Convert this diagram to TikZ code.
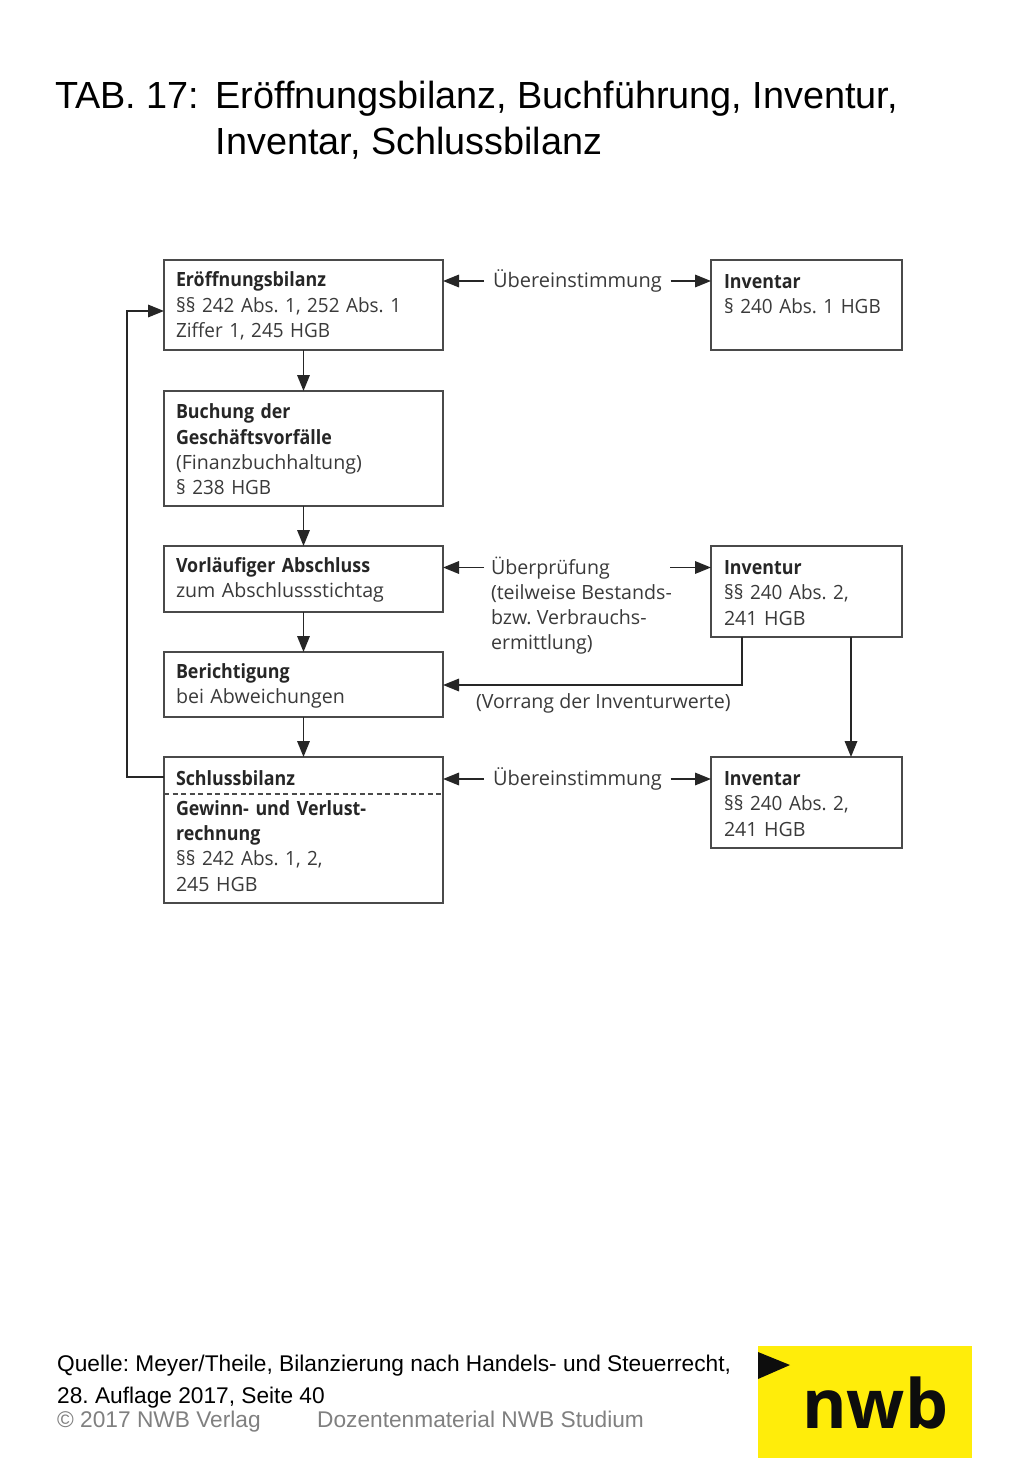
\documentclass[tikz,border=0pt]{standalone}
\usepackage{fontspec}
\setmainfont{Liberation Sans}
\newfontfamily\diag{Open Sans}
\newfontfamily\diagb[FakeStretch=0.91]{Open Sans}
\newfontfamily\diagn[FakeStretch=0.965]{Open Sans}
\usetikzlibrary{arrows.meta}
\definecolor{boxline}{HTML}{4A4A4A}
\definecolor{inktext}{HTML}{3A3A3A}
\definecolor{nwbyellow}{HTML}{FFED0A}
\definecolor{foot}{HTML}{808080}
\newcommand{\hd}[1]{{\diagb\bfseries\color{black!85}#1}}
\newcommand{\nm}[1]{{\diagn #1}}
\tikzset{
  box/.style={draw=boxline,line width=1.8pt,outer sep=0pt,anchor=north west,inner xsep=12pt,inner ysep=0pt,
    font=\diag\fontsize{19.6}{25.3}\selectfont\frenchspacing,text=inktext,align=left,
    execute at begin node=\rule{0pt}{17pt}},
  lab/.style={anchor=west,inner xsep=9pt,inner ysep=0pt,outer sep=0pt,font=\diag\fontsize{19.6}{25.3}\selectfont\frenchspacing,text=inktext,align=left},
  conn/.style={draw=black!85,line width=1.7pt,-{Triangle[length=16pt,width=12.5pt]}},
  plain/.style={anchor=base west,inner sep=0pt,font=\fontsize{37.8}{46}\selectfont\frenchspacing},
  src/.style={anchor=base west,inner sep=0pt,font=\fontsize{22.7}{28}\selectfont\frenchspacing},
  copyr/.style={anchor=base west,inner sep=0pt,font=\fontsize{22.7}{28}\selectfont\frenchspacing,text=foot}
}
\begin{document}
\begin{tikzpicture}[x=1pt,y=-1pt]
\useasboundingbox (0,0) rectangle (1024,1479);
\fill[white] (0,0) rectangle (1024,1479);
% title
\node[plain] (tab) at (55,109) {TAB. 17:};
\node[plain] (t1) at (215.5,109) {Eröffnungsbilanz, Buchführung, Inventur,};
\node[plain] (t2) at (215.5,155) {Inventar, Schlussbilanz};
% boxes
\node[box,minimum width=279pt,minimum height=90pt,text width=255pt] (eb) at (164,260) {\hd{Eröffnungsbilanz}\\\nm{§§ 242 Abs. 1, 252 Abs. 1}\\\nm{Ziffer 1, 245 HGB}};
\node[box,minimum width=279pt,minimum height=115pt,text width=255pt] (bu) at (164,391) {\hd{Buchung der}\\\hd{Geschäftsvorfälle}\\(Finanzbuchhaltung)\\\nm{§ 238 HGB}};
\node[box,minimum width=279pt,minimum height=66pt,text width=255pt] (va) at (164,546) {\hd{Vorläufiger Abschluss}\\zum Abschlussstichtag};
\node[box,minimum width=279pt,minimum height=65pt,text width=255pt] (be) at (164,652) {\hd{Berichtigung}\\bei Abweichungen};
\node[box,minimum width=279pt,minimum height=146pt,text width=255pt] (sb) at (164,757) {\hd{Schlussbilanz}\\[4.5pt]\hd{Gewinn- und Verlust-}\\\hd{rechnung}\\\nm{§§ 242 Abs. 1, 2,}\\245 HGB};
\draw[boxline,line width=1.5pt,dash pattern=on 5pt off 3.5pt] (sb.west |- 0,794) -- (sb.east |- 0,794);
\node[box,inner xsep=13pt,minimum width=191pt,minimum height=90pt,text width=165pt] (i1) at (711,260) {\hd{Inventar}\\\nm{§ 240 Abs. 1 HGB}\\\phantom{241 HGB}};
\node[box,inner xsep=13pt,minimum width=191pt,minimum height=91pt,text width=165pt] (iv) at (711,546) {\hd{Inventur}\\\nm{§§ 240 Abs. 2,}\\241 HGB};
\node[box,inner xsep=13pt,minimum width=191pt,minimum height=91pt,text width=165pt] (i2) at (711,757) {\hd{Inventar}\\\nm{§§ 240 Abs. 2,}\\241 HGB};
% labels
\node[lab,font=\diag\fontsize{20}{25.3}\selectfont] (u1) at (484,281) {Übereinstimmung};
\node[lab,font=\diag\fontsize{20}{25.3}\selectfont] (u2) at (484,779) {Übereinstimmung};
\node[lab,anchor=north west] (up) at (482,556.5) {Überprüfung\\(teilweise Bestands-\\bzw. Verbrauchs-\\ermittlung)};
\node[lab,inner xsep=0pt] (vo) at (476,703) {(Vorrang der Inventurwerte)};
% flow arrows
\draw[conn] (eb) -- (bu);
\draw[conn] (bu) -- (va);
\draw[conn] (va) -- (be);
\draw[conn] (be) -- (sb);
% horizontal
\draw[conn] (u1.west) -- (eb.east |- u1.west);
\draw[conn] (u1.east) -- (i1.west |- u1.east);
\draw[conn] (u2.west) -- (sb.east |- u2.west);
\draw[conn] (u2.east) -- (i2.west |- u2.east);
\coordinate (upl) at (484,567.5);
\coordinate (upr) at (670,567.5);
\draw[conn] (upl) -- (va.east |- upl);
\draw[conn] (upr) -- (iv.west |- upr);
% inventur links
\coordinate (ivdown) at (742,637);
\coordinate (ivright) at (851,637);
\draw[conn] (ivdown) |- (be.east |- 0,685);
\draw[conn] (ivright) -- (ivright |- i2.north);
% feedback
\coordinate (sbout) at (164,777);
\coordinate (ebin) at (164,311);
\draw[conn] (sbout) -- (127,777) -- (127,311) -- (ebin);
% footer
\node[src] (q1) at (57,1371) {Quelle: Meyer/Theile, Bilanzierung nach Handels- und Steuerrecht,};
\node[src] (q2) at (57,1403) {28. Auflage 2017, Seite 40};
\node[copyr] (c1) at (57,1427) {© 2017 NWB Verlag};
\node[copyr] (c2) at (317,1427) {Dozentenmaterial NWB Studium};
% logo
\fill[nwbyellow] (758,1346) rectangle (972,1458);
\fill[black!95] (758,1352) -- (790,1365) -- (758,1379) -- cycle;
\node[anchor=base west,inner sep=0pt,font=\diag\bfseries\fontsize{68}{68}\selectfont,text=black!95] (nwb) at (802,1428) {nwb};
\end{tikzpicture}
\end{document}
